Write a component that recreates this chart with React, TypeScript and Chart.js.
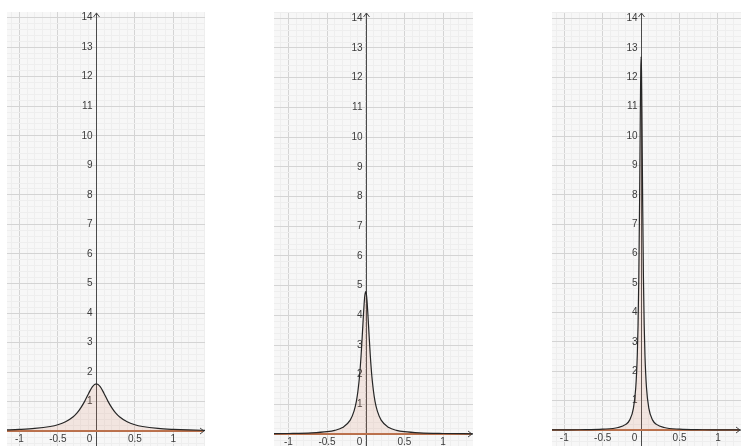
import React, { useEffect, useRef } from 'react';
import { Chart, registerables } from 'chart.js';

Chart.register(...registerables);

// Tick labels
const xTickLabels = [-1, -0.5, 0, 0.5, 1];
const yTickLabels = [1, 2, 3, 4, 5, 6, 7, 8, 9, 10, 11, 12, 13, 14];

// Panel 1 curve (peak ≈ 1.6)
const curve1X = [-1.2, -1.0, -0.8, -0.6, -0.5, -0.4, -0.3, -0.25, -0.2, -0.15, -0.1, -0.05, 0, 0.05, 0.1, 0.15, 0.2, 0.25, 0.3, 0.4, 0.5, 0.6, 0.8, 1.0, 1.2, 1.45];
const curve1Y = [0.043, 0.062, 0.094, 0.16, 0.22, 0.32, 0.49, 0.62, 0.8, 1.02, 1.28, 1.51, 1.6, 1.51, 1.28, 1.02, 0.8, 0.62, 0.49, 0.32, 0.22, 0.16, 0.094, 0.062, 0.043, 0.03];

// Panel 2 curve (peak ≈ 4.8)
const curve2X = [-1.25, -1.0, -0.7, -0.5, -0.4, -0.3, -0.2, -0.15, -0.12, -0.1, -0.08, -0.06, -0.04, -0.03, -0.02, -0.01, 0, 0.01, 0.02, 0.03, 0.04, 0.06, 0.08, 0.1, 0.12, 0.15, 0.2, 0.3, 0.4, 0.5, 0.7, 1.0, 1.4];
const curve2Y = [0.013, 0.021, 0.042, 0.082, 0.127, 0.22, 0.47, 0.78, 1.11, 1.46, 1.94, 2.63, 3.51, 3.97, 4.39, 4.69, 4.8, 4.69, 4.39, 3.97, 3.51, 2.63, 1.94, 1.46, 1.11, 0.78, 0.47, 0.22, 0.127, 0.082, 0.042, 0.021, 0.0107];

// Panel 3 curve (peak ≈ 12.7)
const curve3X = [-1.2, -1.0, -0.8, -0.5, -0.3, -0.2, -0.15, -0.1, -0.07, -0.05, -0.04, -0.03, -0.02, -0.015, -0.01, -0.005, 0, 0.005, 0.01, 0.015, 0.02, 0.03, 0.04, 0.05, 0.07, 0.1, 0.15, 0.2, 0.3, 0.5, 0.8, 1.0, 1.35];
const curve3Y = [0.0055, 0.0079, 0.0124, 0.032, 0.088, 0.195, 0.34, 0.75, 1.44, 2.54, 3.57, 5.2, 7.75, 9.34, 10.95, 12.2, 12.7, 12.2, 10.95, 9.34, 7.75, 5.2, 3.57, 2.54, 1.44, 0.75, 0.34, 0.195, 0.088, 0.032, 0.0124, 0.0079, 0.0044];

type PanelCfg = {
  xs: number[];
  ys: number[];
  left: number;
  top: number;
  width: number;
  height: number;
  xMin: number;
  xMax: number;
  yMin: number;
  yMax: number;
};

const panels: PanelCfg[] = [
  { xs: curve1X, ys: curve1Y, left: 7, top: 12, width: 198, height: 434, xMin: -1.16, xMax: 1.411, yMin: -0.5, yMax: 14.19 },
  { xs: curve2X, ys: curve2Y, left: 274, top: 12, width: 199, height: 434, xMin: -1.186, xMax: 1.388, yMin: -0.4, yMax: 14.21 },
  { xs: curve3X, ys: curve3Y, left: 552, top: 12, width: 189, height: 434, xMin: -1.16, xMax: 1.30, yMin: -0.54, yMax: 14.22 },
];

const isMult = (v: number, step: number) => Math.abs(v / step - Math.round(v / step)) < 1e-6;

const decorPlugin = {
  id: 'decor',
  beforeDraw(chart: any) {
    const { ctx, chartArea } = chart;
    ctx.save();
    ctx.fillStyle = '#f7f7f7';
    ctx.fillRect(chartArea.left, chartArea.top, chartArea.right - chartArea.left, chartArea.bottom - chartArea.top);
    ctx.restore();
  },
  beforeDatasetsDraw(chart: any) {
    const { ctx, chartArea, scales } = chart;
    const xs = scales.x;
    const ys = scales.y;
    const x0 = Math.round(xs.getPixelForValue(0)) + 0.5;
    const y0 = Math.round(ys.getPixelForValue(0));
    ctx.save();
    // y axis
    ctx.strokeStyle = '#4a4a4a';
    ctx.lineWidth = 1;
    ctx.beginPath();
    ctx.moveTo(x0, chartArea.bottom);
    ctx.lineTo(x0, chartArea.top + 1);
    ctx.stroke();
    ctx.beginPath();
    ctx.moveTo(x0 - 3, chartArea.top + 5);
    ctx.lineTo(x0, chartArea.top + 1);
    ctx.lineTo(x0 + 3, chartArea.top + 5);
    ctx.stroke();
    // x axis
    ctx.strokeStyle = '#b8704c';
    ctx.lineWidth = 2;
    ctx.beginPath();
    ctx.moveTo(chartArea.left, y0);
    ctx.lineTo(chartArea.right - 2, y0);
    ctx.stroke();
    ctx.strokeStyle = '#4a4a4a';
    ctx.lineWidth = 1;
    ctx.beginPath();
    ctx.moveTo(chartArea.right - 5, y0 - 3);
    ctx.lineTo(chartArea.right - 1, y0);
    ctx.lineTo(chartArea.right - 5, y0 + 3);
    ctx.stroke();
    // labels
    ctx.fillStyle = '#3a3a3a';
    ctx.font = '10px "Liberation Sans", Arial, sans-serif';
    ctx.textAlign = 'right';
    ctx.textBaseline = 'middle';
    for (const v of yTickLabels) {
      ctx.fillText(String(v), x0 - 4, ys.getPixelForValue(v));
    }
    ctx.textAlign = 'center';
    for (const v of xTickLabels) {
      const px = v === 0 ? x0 - 7 : xs.getPixelForValue(v);
      ctx.fillText(String(v), px, y0 + 8);
    }
    ctx.restore();
  },
};

function Panel({ cfg }: { cfg: PanelCfg }) {
  const ref = useRef<HTMLCanvasElement>(null);
  useEffect(() => {
    if (!ref.current) return;
    const chart = new Chart(ref.current, {
      type: 'line',
      data: {
        datasets: [
          {
            data: cfg.xs.map((x, i) => ({ x, y: cfg.ys[i] })),
            borderColor: '#262626',
            borderWidth: 1.2,
            pointRadius: 0,
            cubicInterpolationMode: 'monotone',
            fill: 'origin',
            backgroundColor: 'rgba(215, 130, 95, 0.15)',
          },
        ],
      },
      options: {
        responsive: false,
        maintainAspectRatio: false,
        animation: false,
        devicePixelRatio: 1,
        layout: { padding: 0 },
        plugins: { legend: { display: false }, tooltip: { enabled: false } },
        scales: {
          x: {
            type: 'linear',
            min: cfg.xMin,
            max: cfg.xMax,
            border: { display: false },
            ticks: { display: false, stepSize: 0.1, includeBounds: false },
            grid: {
              drawTicks: false,
              color: (c: any) => (isMult(c.tick.value, 0.5) ? '#d4d4d4' : '#eeeeee'),
              lineWidth: 1,
            },
          },
          y: {
            type: 'linear',
            min: cfg.yMin,
            max: cfg.yMax,
            border: { display: false },
            ticks: { display: false, stepSize: 0.2, includeBounds: false },
            grid: {
              drawTicks: false,
              color: (c: any) => (isMult(c.tick.value, 1) ? '#d4d4d4' : '#eeeeee'),
              lineWidth: 1,
            },
          },
        },
      },
      plugins: [decorPlugin],
    } as any);
    return () => chart.destroy();
  }, [cfg]);
  return (
    <canvas
      ref={ref}
      width={cfg.width}
      height={cfg.height}
      style={{ position: 'absolute', left: cfg.left, top: cfg.top, width: cfg.width, height: cfg.height }}
    />
  );
}

export default function App() {
  return (
    <div style={{ position: 'fixed', left: 0, top: 0, width: 741, height: 446, background: '#ffffff', overflow: 'hidden' }}>
      {panels.map((p, i) => (
        <Panel key={i} cfg={p} />
      ))}
    </div>
  );
}
